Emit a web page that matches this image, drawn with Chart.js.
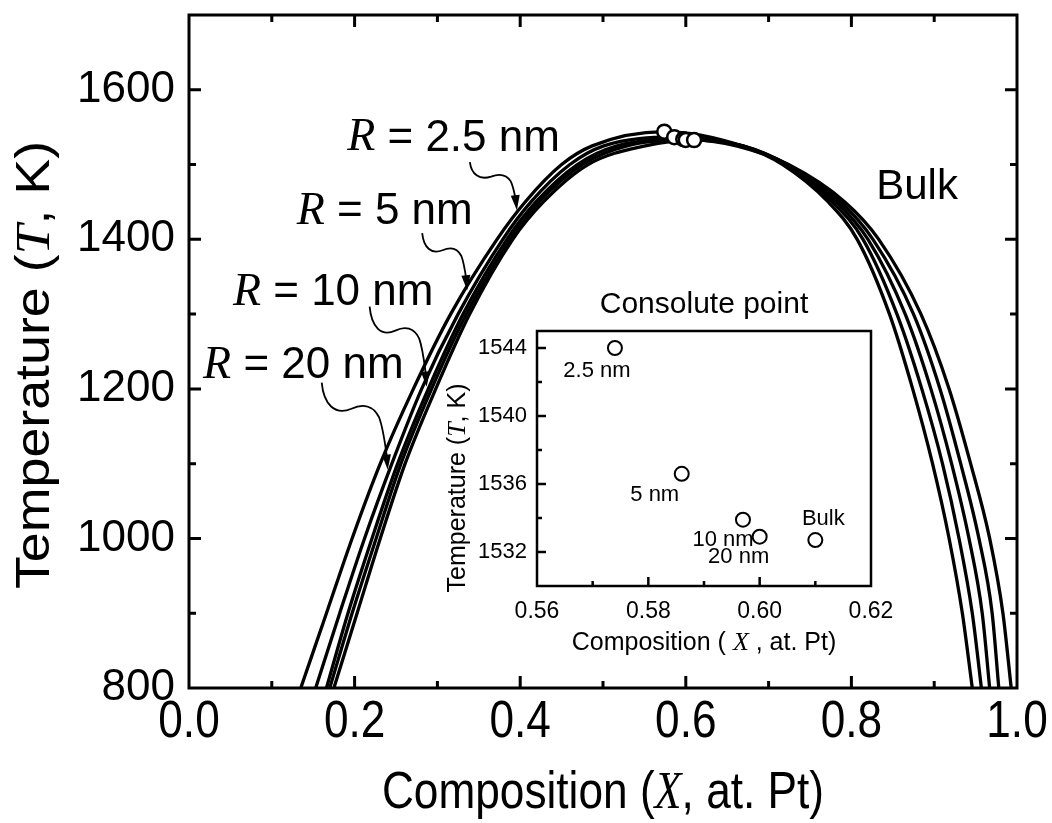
<!DOCTYPE html>
<html>
<head>
<meta charset="utf-8">
<script src="https://cdn.jsdelivr.net/npm/chart.js@4.4.0/dist/chart.umd.min.js"></script>
<style>
  html, body { margin: 0; padding: 0; background: #fff; }
  #wrap { position: relative; width: 1052px; height: 823px; }
  #main { position: absolute; left: 0; top: 0; }
  #inset { position: absolute; left: 440px; top: 280px; }
</style>
</head>
<body>
<div id="wrap">
  <canvas id="main" width="1052" height="823" style="width:1052px;height:823px"></canvas>
  <canvas id="inset" width="460" height="380" style="width:460px;height:380px"></canvas>
</div>
<script>
// temperatures (K) at which the two branches of every gap were read
const tempLevels = [800, 900, 1000, 1100, 1200, 1300, 1400, 1450, 1500, 1525];

const sizeLabels = ['2.5 nm', '5 nm', '10 nm', '20 nm', 'Bulk'];

// consolute points (inset)
const consoluteX = [0.574, 0.586, 0.597, 0.600, 0.610];
const consoluteT = [1544.0, 1536.6, 1533.9, 1532.9, 1532.7];

// Pt-poor branch, X at tempLevels
const left2p5  = [0.135, 0.166, 0.197, 0.231, 0.271, 0.316, 0.372, 0.406, 0.450, 0.487];
const left5    = [0.153, 0.182, 0.212, 0.245, 0.281, 0.325, 0.379, 0.413, 0.460, 0.501];
const left10   = [0.166, 0.192, 0.221, 0.252, 0.289, 0.331, 0.384, 0.419, 0.469, 0.517];
const left20   = [0.170, 0.197, 0.226, 0.256, 0.293, 0.335, 0.388, 0.423, 0.475, 0.529];
const leftBulk = [0.175, 0.203, 0.231, 0.261, 0.298, 0.339, 0.391, 0.428, 0.482, 0.551];

// Pt-rich branch, X at tempLevels
const right2p5  = [0.946, 0.934, 0.918, 0.898, 0.874, 0.846, 0.807, 0.772, 0.717, 0.668];
const right5    = [0.957, 0.946, 0.930, 0.910, 0.885, 0.855, 0.814, 0.777, 0.719, 0.669];
const right10   = [0.967, 0.958, 0.942, 0.921, 0.896, 0.865, 0.820, 0.782, 0.722, 0.669];
const right20   = [0.978, 0.970, 0.954, 0.932, 0.907, 0.875, 0.826, 0.787, 0.723, 0.667];
const rightBulk = [0.993, 0.983, 0.967, 0.944, 0.918, 0.884, 0.833, 0.792, 0.724, 0.661];

const leftBranches = [left2p5, left5, left10, left20, leftBulk];
const rightBranches = [right2p5, right5, right10, right20, rightBulk];

const mainXTicks = [0, 0.2, 0.4, 0.6, 0.8, 1.0];
const mainYTicks = [800, 1000, 1200, 1400, 1600];
const insetXTicks = [0.56, 0.58, 0.60, 0.62];
const insetYTicks = [1532, 1536, 1540, 1544];

const SANS = "'Liberation Sans', Arial, sans-serif";
const SERIF = "'Liberation Serif', 'Times New Roman', serif";

function gapCurve(i) {
  const pts = tempLevels.map((t, k) => ({ x: leftBranches[i][k], y: t }));
  pts.push({ x: consoluteX[i], y: consoluteT[i] });
  for (let k = tempLevels.length - 1; k >= 0; k--) {
    pts.push({ x: rightBranches[i][k], y: tempLevels[k] });
  }
  return pts;
}

// text made of pieces in different fonts
function drawParts(ctx, parts, x, y, align) {
  let total = 0;
  parts.forEach(p => { ctx.font = p[1]; total += ctx.measureText(p[0]).width; });
  let cx = align === 'center' ? x - total / 2 : x;
  ctx.textAlign = 'left';
  parts.forEach(p => {
    ctx.font = p[1];
    ctx.fillText(p[0], cx, y);
    cx += ctx.measureText(p[0]).width;
  });
}

// same, squeezed or stretched along the text and optionally turned
function drawPartsAt(ctx, parts, x, y, stretch, rotate) {
  ctx.save();
  ctx.translate(x, y);
  if (rotate) ctx.rotate(-Math.PI / 2);
  ctx.scale(stretch, 1);
  drawParts(ctx, parts, 0, 0, 'center');
  ctx.restore();
}

function wavyArrow(ctx, sx, sy, tx, ty) {
  const dx = tx - sx, dy = ty - sy;
  const P = (u, v) => [sx + u * dx, sy + v * dy];
  ctx.beginPath();
  ctx.moveTo(sx, sy);
  ctx.bezierCurveTo(...P(0.03, 0.25), ...P(0.2, 0.38), ...P(0.45, 0.30));
  ctx.bezierCurveTo(...P(0.62, 0.24), ...P(0.78, 0.26), ...P(0.87, 0.40));
  ctx.bezierCurveTo(...P(0.93, 0.52), ...P(0.96, 0.70), ...P(0.985, 0.84));
  ctx.stroke();
  const [bx, by] = P(0.975, 0.78);
  const ang = Math.atan2(ty - by, tx - bx);
  const len = 15, half = 4.5;
  ctx.beginPath();
  ctx.moveTo(tx, ty);
  ctx.lineTo(tx - len * Math.cos(ang) + half * Math.sin(ang), ty - len * Math.sin(ang) - half * Math.cos(ang));
  ctx.lineTo(tx - len * Math.cos(ang) - half * Math.sin(ang), ty - len * Math.sin(ang) + half * Math.cos(ang));
  ctx.closePath();
  ctx.fill();
}

const whiteBg = {
  id: 'whiteBg',
  beforeDraw(chart) {
    const ctx = chart.ctx;
    ctx.save();
    ctx.fillStyle = '#fff';
    ctx.fillRect(0, 0, chart.width, chart.height);
    ctx.restore();
  }
};

// box round the plot and ticks pointing inwards
const frameTicks = {
  id: 'frameTicks',
  afterDatasetsDraw(chart, args, o) {
    const { ctx, chartArea: a } = chart;
    const xs = chart.scales.x, ys = chart.scales.y;
    ctx.save();
    ctx.strokeStyle = '#000';
    ctx.lineWidth = o.lineWidth;
    ctx.beginPath();
    const xt = (vals, len) => vals.forEach(v => {
      const p = xs.getPixelForValue(v);
      ctx.moveTo(p, a.bottom); ctx.lineTo(p, a.bottom - len);
      if (o.mirror) { ctx.moveTo(p, a.top); ctx.lineTo(p, a.top + len); }
    });
    const yt = (vals, len) => vals.forEach(v => {
      const p = ys.getPixelForValue(v);
      ctx.moveTo(a.left, p); ctx.lineTo(a.left + len, p);
      if (o.mirror) { ctx.moveTo(a.right, p); ctx.lineTo(a.right - len, p); }
    });
    xt(o.xMajor, o.majorLen); xt(o.xMinor, o.minorLen);
    yt(o.yMajor, o.majorLen); yt(o.yMinor, o.minorLen);
    ctx.stroke();
    ctx.strokeRect(a.left, a.top, a.right - a.left, a.bottom - a.top);
    ctx.restore();
  }
};

// curve labels, arrows, x tick labels and axis titles of the main plot
const labelPosX = [0.191, 0.130, 0.053, 0.017];
const labelPosT = [1535, 1437, 1328, 1231];
const arrowTipX = [0.396, 0.336, 0.287, 0.240];
const arrowTipT = [1439, 1332, 1203, 1092];
const arrowStart = [[-47, -48], [-45, -57], [-57, -80], [-66, -87]];

const mainNotes = {
  id: 'mainNotes',
  afterDraw(chart) {
    const { ctx, chartArea: a } = chart;
    const xs = chart.scales.x, ys = chart.scales.y;
    ctx.save();
    ctx.fillStyle = '#000';
    ctx.strokeStyle = '#000';
    ctx.textBaseline = 'middle';
    for (let i = 0; i < 4; i++) {
      drawParts(ctx, [['R', 'italic 46px ' + SERIF], [' = ' + sizeLabels[i], '44px ' + SANS]],
        xs.getPixelForValue(labelPosX[i]), ys.getPixelForValue(labelPosT[i]), 'left');
      const tx = xs.getPixelForValue(arrowTipX[i]), ty = ys.getPixelForValue(arrowTipT[i]);
      ctx.lineWidth = 1.8;
      wavyArrow(ctx, tx + arrowStart[i][0], ty + arrowStart[i][1], tx, ty);
    }
    ctx.font = '42px ' + SANS;
    ctx.textAlign = 'left';
    ctx.fillText('Bulk', xs.getPixelForValue(0.83), ys.getPixelForValue(1470));

    // x tick labels, narrow like the original
    mainXTicks.forEach(v => {
      drawPartsAt(ctx, [[v.toFixed(1), '52px ' + SANS]], xs.getPixelForValue(v), a.bottom + 35, 0.85, false);
    });

    // axis titles
    drawPartsAt(ctx, [['Composition (', '52px ' + SANS], ['X', 'italic 52px ' + SERIF], [', at. Pt)', '52px ' + SANS]],
      (a.left + a.right) / 2, a.bottom + 106, 0.85, false);
    drawPartsAt(ctx, [['Temperature (', '48px ' + SANS], ['T', 'italic 48px ' + SERIF], [', K)', '48px ' + SANS]],
      36, 365, 1.12, true);
    ctx.restore();
  }
};

new Chart(document.getElementById('main'), {
  type: 'line',
  data: {
    datasets: [
      {
        type: 'scatter',
        label: 'Consolute point',
        data: consoluteX.map((x, i) => ({ x, y: consoluteT[i] })),
        pointRadius: 7,
        pointBorderWidth: 2.5,
        pointBackgroundColor: '#fff',
        pointBorderColor: '#000',
        showLine: false,
        order: 0
      },
      ...sizeLabels.map((name, i) => ({
        label: name,
        data: gapCurve(i),
        borderColor: '#000',
        borderWidth: 3.3,
        pointRadius: 0,
        fill: false,
        cubicInterpolationMode: 'monotone',
        order: 1
      }))
    ]
  },
  options: {
    responsive: false,
    animation: false,
    devicePixelRatio: 1,
    layout: { padding: { left: 0, right: 35, top: 15, bottom: 0 } },
    plugins: {
      legend: { display: false },
      tooltip: { enabled: false },
      frameTicks: {
        lineWidth: 3, mirror: true, majorLen: 12, minorLen: 7,
        xMajor: [0.2, 0.4, 0.6, 0.8], xMinor: [0.1, 0.3, 0.5, 0.7, 0.9],
        yMajor: [1000, 1200, 1400, 1600], yMinor: [900, 1100, 1300, 1500]
      }
    },
    scales: {
      x: {
        type: 'linear', min: 0, max: 1,
        grid: { display: false, drawTicks: false },
        border: { display: false },
        afterBuildTicks: s => { s.ticks = mainXTicks.map(v => ({ value: v })); },
        afterFit: s => { s.height = 135; s.paddingLeft = 0; s.paddingRight = 0; },
        ticks: { display: false }
      },
      y: {
        type: 'linear', min: 800, max: 1700,
        grid: { display: false, drawTicks: false },
        border: { display: false },
        afterBuildTicks: s => { s.ticks = mainYTicks.map(v => ({ value: v })); },
        afterFit: s => { s.width = 189; s.paddingTop = 0; s.paddingBottom = 0; },
        ticks: {
          color: '#000', padding: 14, autoSkip: false,
          font: { family: SANS, size: 44 },
          callback: v => String(v)
        }
      }
    }
  },
  plugins: [whiteBg, frameTicks, mainNotes]
});

// inset: consolute points
const insetLabelDx = [-18, -27, -20, -21, 8];
const insetLabelDy = [23, 21, 20, 20, -21];

const insetNotes = {
  id: 'insetNotes',
  afterDraw(chart) {
    const { ctx, chartArea: a } = chart;
    const xs = chart.scales.x, ys = chart.scales.y;
    ctx.save();
    ctx.fillStyle = '#000';
    ctx.textBaseline = 'middle';
    ctx.textAlign = 'center';
    ctx.font = '22px ' + SANS;
    sizeLabels.forEach((name, i) => {
      ctx.fillText(name, xs.getPixelForValue(consoluteX[i]) + insetLabelDx[i],
        ys.getPixelForValue(consoluteT[i]) + insetLabelDy[i]);
    });
    ctx.font = '30px ' + SANS;
    ctx.fillText('Consolute point', (a.left + a.right) / 2, a.top - 26);
    drawPartsAt(ctx, [['Composition ( ', '25px ' + SANS], ['X', 'italic 26px ' + SERIF], [' , at. Pt)', '25px ' + SANS]],
      (a.left + a.right) / 2, a.bottom + 57, 1, false);
    drawPartsAt(ctx, [['Temperature (', '25px ' + SANS], ['T', 'italic 26px ' + SERIF], [', K)', '25px ' + SANS]],
      18, a.top + 157, 1, true);
    ctx.restore();
  }
};

new Chart(document.getElementById('inset'), {
  type: 'scatter',
  data: {
    datasets: [{
      label: 'Consolute point',
      data: consoluteX.map((x, i) => ({ x, y: consoluteT[i] })),
      pointRadius: 7,
      pointBorderWidth: 2,
      pointBackgroundColor: '#fff',
      pointBorderColor: '#000'
    }]
  },
  options: {
    responsive: false,
    animation: false,
    devicePixelRatio: 1,
    layout: { padding: { left: 0, right: 29, top: 51, bottom: 0 } },
    plugins: {
      legend: { display: false },
      tooltip: { enabled: false },
      frameTicks: {
        lineWidth: 2.5, mirror: false, majorLen: 9, minorLen: 5,
        xMajor: [0.58, 0.60], xMinor: [0.57, 0.59, 0.61],
        yMajor: [1532, 1536, 1540, 1544], yMinor: [1534, 1538, 1542]
      }
    },
    scales: {
      x: {
        type: 'linear', min: 0.56, max: 0.62,
        grid: { display: false, drawTicks: false },
        border: { display: false },
        afterBuildTicks: s => { s.ticks = insetXTicks.map(v => ({ value: v })); },
        afterFit: s => { s.height = 74; s.paddingLeft = 0; s.paddingRight = 0; },
        ticks: {
          color: '#000', padding: 12, maxRotation: 0, autoSkip: false,
          font: { family: SANS, size: 23 },
          callback: v => v.toFixed(2)
        }
      },
      y: {
        type: 'linear', min: 1530, max: 1545,
        grid: { display: false, drawTicks: false },
        border: { display: false },
        afterBuildTicks: s => { s.ticks = insetYTicks.map(v => ({ value: v })); },
        afterFit: s => { s.width = 97; s.paddingTop = 0; s.paddingBottom = 0; },
        ticks: {
          color: '#000', padding: 10, autoSkip: false,
          font: { family: SANS, size: 22 },
          callback: v => String(v)
        }
      }
    }
  },
  plugins: [frameTicks, insetNotes]
});
</script>
</body>
</html>
